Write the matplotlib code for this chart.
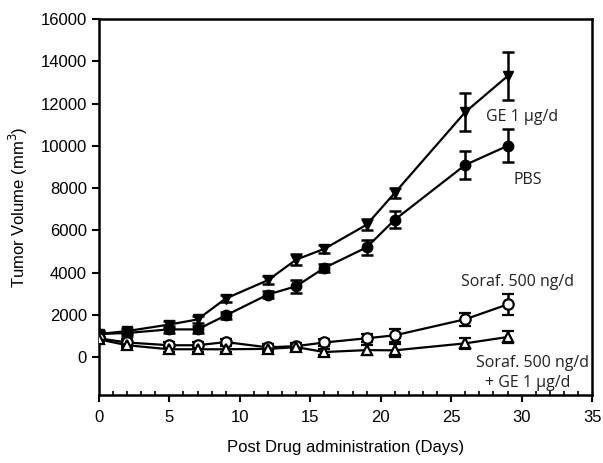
import matplotlib
matplotlib.use("Agg")
import matplotlib.pyplot as plt
from matplotlib.ticker import MultipleLocator

plt.rcParams['font.family'] = ['Liberation Sans', 'DejaVu Sans']

days = [0, 2, 5, 7, 9, 12, 14, 16, 19, 21, 26, 29]

ge = [1100, 1240, 1550, 1790, 2780, 3650, 4620, 5130, 6270, 7780, 11600, 13300]
ge_err = [150, 150, 150, 150, 150, 200, 250, 200, 250, 250, 900, 1150]

pbs = [1100, 1150, 1320, 1320, 1980, 2970, 3360, 4230, 5200, 6510, 9100, 10000]
pbs_err = [150, 150, 150, 150, 150, 150, 300, 200, 350, 400, 680, 780]

soraf = [900, 700, 570, 570, 720, 470, 530, 700, 900, 1040, 1800, 2500]
soraf_err = [150, 150, 150, 150, 150, 150, 150, 150, 200, 300, 300, 500]

combo = [850, 570, 380, 380, 380, 400, 480, 250, 340, 330, 660, 960]
combo_err = [150, 150, 150, 150, 150, 150, 150, 150, 250, 300, 250, 300]

fig = plt.figure(figsize=(6.03, 4.63), dpi=100)
ax = fig.add_axes([0.164, 0.147, 0.818, 0.812])

common = dict(color='black', lw=1.6, elinewidth=1.8, capsize=4.5, capthick=1.8, ms=7.5, zorder=3)
ax.errorbar(days, ge, yerr=ge_err, marker='v', mfc='black', mec='black', **common)
ax.errorbar(days, pbs, yerr=pbs_err, marker='o', mfc='black', mec='black', **common)
ax.errorbar(days, soraf, yerr=soraf_err, marker='o', mfc='white', mec='black', mew=1.6, **common)
ax.errorbar(days, combo, yerr=combo_err, marker='^', mfc='white', mec='black', mew=1.6, **common)

ax.set_xlim(0, 35)
ax.set_ylim(-1780, 16000)
ax.set_xticks(range(0, 36, 5))
ax.set_yticks(range(0, 16001, 2000))
ax.xaxis.set_minor_locator(MultipleLocator(1))
ax.tick_params(axis='x', which='major', direction='out', length=5, width=1.5, labelsize=12, pad=6)
ax.tick_params(axis='x', which='minor', direction='in', length=3, width=1.2)
ax.tick_params(axis='y', which='major', direction='out', length=5, width=1.5, labelsize=12)
for s in ax.spines.values():
    s.set_linewidth(1.8)

ax.set_xlabel('Post Drug administration (Days)', fontsize=12, labelpad=11)
ax.set_ylabel('Tumor Volume (mm$^3$)', fontsize=12, labelpad=8)

lab = dict(fontsize=11.5, family=['Open Sans', 'DejaVu Sans'], color='#222222')
ax.text(30.0, 11370, 'GE 1 μg/d', ha='center', va='center', **lab)
ax.text(30.4, 8400, 'PBS', ha='center', va='center', **lab)
ax.text(29.7, 3540, 'Soraf. 500 ng/d', ha='center', va='center', **lab)
ax.text(30.8, -280, 'Soraf. 500 ng/d', ha='center', va='center', **lab)
ax.text(30.4, -1230, '+ GE 1 μg/d', ha='center', va='center', **lab)

fig.savefig('out.png', dpi=100)
